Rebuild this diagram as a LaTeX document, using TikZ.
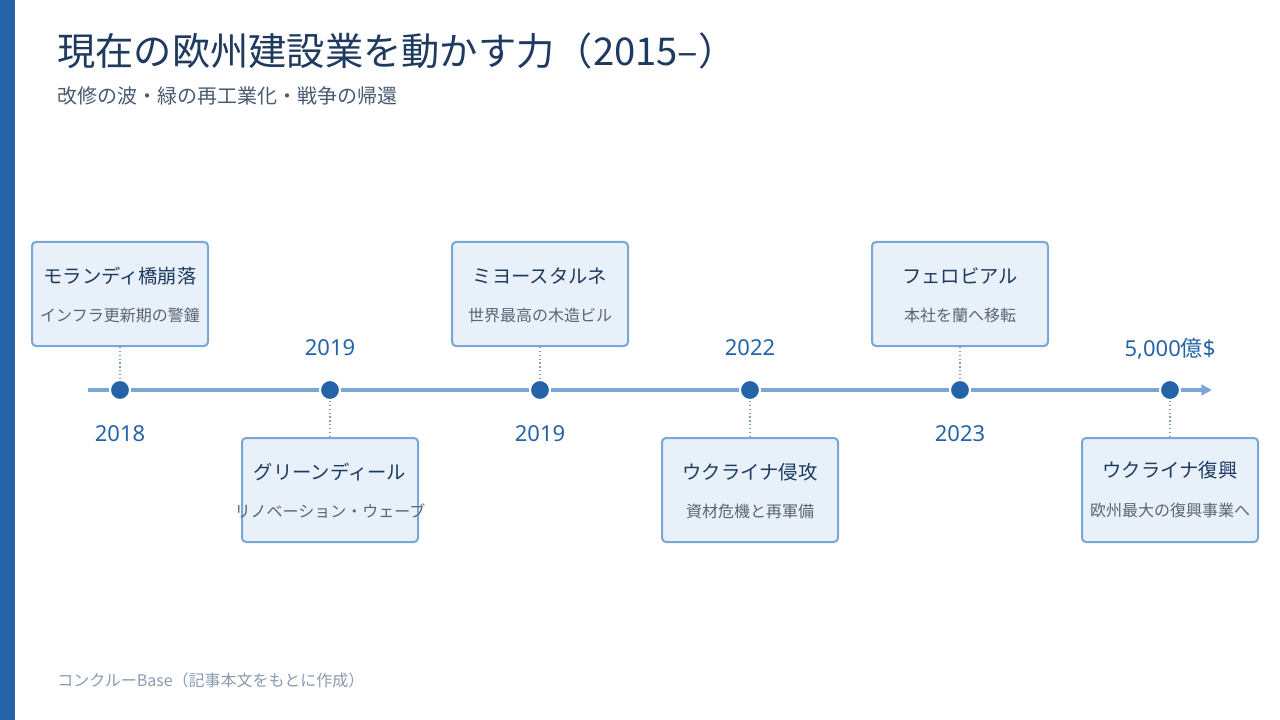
\documentclass[tikz,border=0pt]{standalone}
\usepackage{fontspec}
\setmainfont{Noto Sans CJK JP}
\newfontfamily\latinfont{Noto Sans}
\usetikzlibrary{arrows.meta}
\definecolor{barblue}{HTML}{2563A8}
\definecolor{lineblue}{HTML}{7BA7D4}
\definecolor{boxfill}{HTML}{E8F0FA}
\definecolor{navy}{HTML}{1E3A5F}
\definecolor{subgray}{HTML}{4A5A70}
\definecolor{boxsub}{HTML}{5A6474}
\definecolor{footgray}{HTML}{8A9AB0}
\tikzset{
  evbox/.style={draw=lineblue, line width=1.5pt, fill=boxfill, rounded corners=3pt,
    minimum width=132pt, minimum height=78pt, inner sep=0pt},
  evtitle/.style={font=\fontsize{14.5pt}{17pt}\selectfont, text=navy, inner sep=0pt},
  evsub/.style={font=\fontsize{12pt}{14pt}\selectfont, text=boxsub, inner sep=0pt},
  yearlbl/.style={font=\fontsize{16.5pt}{20pt}\selectfont, text=barblue, inner sep=0pt},
  evdot/.style={circle, fill=barblue, draw=white, line width=1.5pt, minimum size=15pt, inner sep=0pt},
  conn/.style={draw=lineblue!80!gray, line width=0.9pt, dotted},
}
\begin{document}
\begin{tikzpicture}[x=0.75pt,y=-0.75pt]
\useasboundingbox (0,0) rectangle (1280,720);
\fill[barblue] (0,0) rectangle (15,720);
\node[anchor=base west, inner sep=0pt, text=navy, font=\fontsize{28.7pt}{32pt}\selectfont] (title) at (57,66) {現在の欧州建設業を動かす力（2015–）};
\node[anchor=base west, inner sep=0pt, text=subgray, font=\fontsize{15pt}{18pt}\selectfont] (subtitle) at (57,104) {改修の波・緑の再工業化・戦争の帰還};

% timeline
\coordinate (tlstart) at (88,390);
\coordinate (tlend) at (1212,390);
\draw[lineblue, line width=3.2pt, -{Triangle[length=8pt,width=8pt]}] (tlstart) -- (tlend);

\foreach \n/\x in {d1/120,d2/330,d3/540,d4/750,d5/960,d6/1170}
  \node[evdot] (\n) at (\x,390) {};

% top boxes
\node[evbox] (b1) at (120,294) {};
\node[evbox] (b3) at (540,294) {};
\node[evbox] (b5) at (960,294) {};
% bottom boxes
\node[evbox] (b2) at (330,490) {};
\node[evbox] (b4) at (750,490) {};
\node[evbox] (b6) at (1170,490) {};

\node[evtitle] (t1) at (120,276) {モランディ橋崩落};
\node[evsub] (s1) at (120,315) {インフラ更新期の警鐘};
\node[evtitle] (t3) at (540,276) {ミヨースタルネ};
\node[evsub] (s3) at (540,315) {世界最高の木造ビル};
\node[evtitle] (t5) at (960,276) {フェロビアル};
\node[evsub] (s5) at (960,315) {本社を蘭へ移転};
\node[evtitle] (t2) at (330,472) {グリーンディール};
\node[evsub] (s2) at (330,511) {リノベーション・ウェーブ};
\node[evtitle] (t4) at (750,472) {ウクライナ侵攻};
\node[evsub] (s4) at (750,511) {資材危機と再軍備};
\node[evtitle] (t6) at (1170,470) {ウクライナ復興};
\node[evsub] (s6) at (1170,510) {欧州最大の復興事業へ};

% connectors
\draw[conn] (b1.south) -- (d1.north);
\draw[conn] (b3.south) -- (d3.north);
\draw[conn] (b5.south) -- (d5.north);
\draw[conn] (d2.south) -- (b2.north);
\draw[conn] (d4.south) -- (b4.north);
\draw[conn] (d6.south) -- (b6.north);

% years
\node[yearlbl] (y1) at (120,434) {\latinfont 2018};
\node[yearlbl] (y3) at (540,434) {\latinfont 2019};
\node[yearlbl] (y5) at (960,434) {\latinfont 2023};
\node[yearlbl] (y2) at (330,348) {\latinfont 2019};
\node[yearlbl] (y4) at (750,348) {\latinfont 2022};
\node[yearlbl] (y6) at (1170,349) {{\latinfont 5,000}億{\latinfont\$}};

\node[anchor=west, inner sep=0pt, text=footgray, font=\fontsize{12pt}{14pt}\selectfont] (foot) at (57,680) {コンクルーBase（記事本文をもとに作成）};
\end{tikzpicture}
\end{document}
